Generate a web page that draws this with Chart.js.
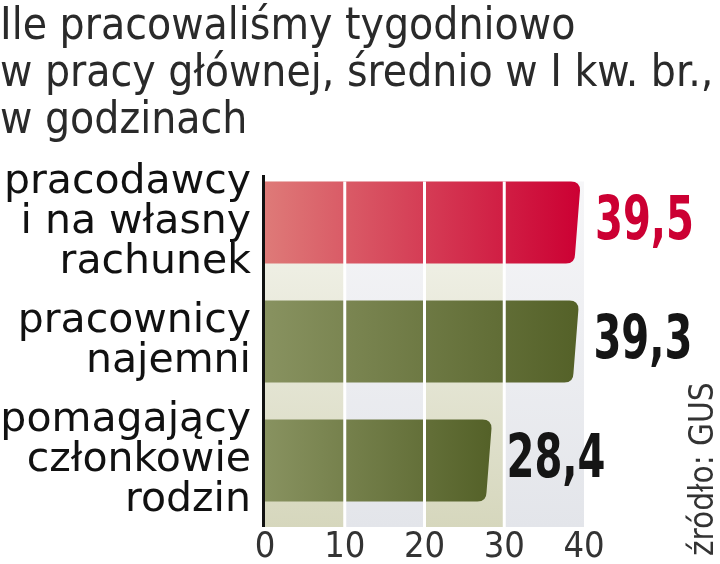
<!DOCTYPE html>
<html>
<head>
<meta charset="utf-8">
<script src="https://cdn.jsdelivr.net/npm/chart.js@4/dist/chart.umd.min.js"></script>
<style>
    html, body { margin: 0; padding: 0; background: #fff; }
</style>
</head>
<body>
<canvas id="hoursChart" width="720" height="564"></canvas>
<script>
// Ile pracowaliśmy tygodniowo - dane GUS, I kw.

const titleLines = ['Ile pracowaliśmy tygodniowo', 'w pracy głównej, średnio w I kw. br.,', 'w godzinach'];
const categories = [
    ['pracodawcy', 'i na własny', 'rachunek'],
    ['pracownicy', 'najemni'],
    ['pomagający', 'członkowie', 'rodzin']
];
const hours = [39.5, 39.3, 28.4];
const valueLabels = ['39,5', '39,3', '28,4'];
const xTicks = [0, 10, 20, 30, 40];
const sourceText = 'źródło: GUS';

// colours
const barColors = [
    ['rgb(222,122,120)', 'rgb(204,0,51)'],
    ['rgb(136,146,96)', 'rgb(84,97,40)'],
    ['rgb(136,146,96)', 'rgb(84,97,40)']
];
const valueColors = ['#cc0033', '#151515', '#151515'];

const NARROW = '"DejaVu Sans Condensed", "Liberation Sans Narrow", sans-serif';

/**
 * Background bands, white separators, axis line, value labels, source
 */
const bandsPlugin = {
    id: 'bands',
    beforeDatasetsDraw(chart) {
        const { ctx, chartArea, scales } = chart;
        const x = scales.x;
        const first = chart.getDatasetMeta(0).data[0];
        const top = first.y - first.height / 2;
        const bottom = chartArea.bottom + 7;
        ctx.save();
        for (let i = 0; i < xTicks.length - 1; i++) {
            const x0 = x.getPixelForValue(xTicks[i]);
            const x1 = x.getPixelForValue(xTicks[i + 1]);
            const g = ctx.createLinearGradient(0, top, 0, bottom);
            if (i % 2 === 0) {
                g.addColorStop(0, '#f6f6f0');
                g.addColorStop(1, '#d6d7bd');
            } else {
                g.addColorStop(0, '#f6f6f8');
                g.addColorStop(1, '#e3e5ea');
            }
            ctx.fillStyle = g;
            ctx.fillRect(x0, top, x1 - x0, bottom - top);
        }
        ctx.restore();
    },
    afterDatasetsDraw(chart) {
        const { ctx, chartArea, scales } = chart;
        const x = scales.x;
        const first = chart.getDatasetMeta(0).data[0];
        const top = first.y - first.height / 2;
        const bottom = chartArea.bottom + 7;
        ctx.save();
        ctx.strokeStyle = '#ffffff';
        ctx.lineWidth = 3;
        xTicks.slice(1, -1).forEach(t => {
            const px = x.getPixelForValue(t);
            ctx.beginPath();
            ctx.moveTo(px, top);
            ctx.lineTo(px, bottom);
            ctx.stroke();
        });
        // zero axis
        ctx.strokeStyle = '#111';
        ctx.lineWidth = 3;
        const zx = x.getPixelForValue(0) - 1.5;
        ctx.beginPath();
        ctx.moveTo(zx, chartArea.top + 12);
        ctx.lineTo(zx, bottom);
        ctx.stroke();

        // values
        ctx.font = 'bold 60px ' + NARROW;
        ctx.textBaseline = 'middle';
        ctx.textAlign = 'left';
        chart.getDatasetMeta(0).data.forEach((el, i) => {
            ctx.fillStyle = valueColors[i];
            ctx.fillText(valueLabels[i], el.x + 15, el.y + 1, 99);
        });

        // source
        ctx.font = '33px ' + NARROW;
        ctx.fillStyle = '#333';
        ctx.translate(713, chart.height - 8);
        ctx.rotate(-Math.PI / 2);
        ctx.textBaseline = 'alphabetic';
        ctx.fillText(sourceText, 0, 0);
        ctx.restore();
    }
};

/**
 * Bars with rounded, slightly slanted right end
 */
const barShapePlugin = {
    id: 'barShape',
    beforeDatasetDraw(chart, args) {
        const { ctx } = chart;
        args.meta.data.forEach((el, i) => {
            const top = el.y - el.height / 2;
            const bottom = el.y + el.height / 2;
            const left = el.base;
            const right = el.x;
            const slant = 5;
            const r = 9;
            const g = ctx.createLinearGradient(left, 0, right, 0);
            g.addColorStop(0, barColors[i][0]);
            g.addColorStop(1, barColors[i][1]);
            ctx.save();
            ctx.fillStyle = g;
            ctx.beginPath();
            ctx.moveTo(left, top);
            ctx.lineTo(right - r, top);
            ctx.quadraticCurveTo(right, top, right, top + r);
            ctx.lineTo(right - slant, bottom - r);
            ctx.quadraticCurveTo(right - slant, bottom, right - slant - r, bottom);
            ctx.lineTo(left, bottom);
            ctx.closePath();
            ctx.fill();
            ctx.restore();
        });
        return false;
    }
};

const chart = new Chart(document.getElementById('hoursChart'), {
    type: 'bar',
    data: {
        labels: categories,
        datasets: [{
            data: hours,
            backgroundColor: '#888',
            barThickness: 82
        }]
    },
    options: {
        indexAxis: 'y',
        responsive: false,
        devicePixelRatio: 1,
        animation: false,
        layout: {
            padding: 0
        },
        plugins: {
            legend: { display: false },
            tooltip: { enabled: false },
            title: {
                display: true,
                text: titleLines,
                align: 'start',
                color: '#2a2a2a',
                font: { family: NARROW, size: 44, weight: 'normal', lineHeight: '47px' },
                padding: { top: 4, bottom: 18 }
            }
        },
        scales: {
            x: {
                min: 0,
                max: 40,
                afterBuildTicks: s => { s.ticks = xTicks.map(v => ({ value: v })); },
                ticks: {
                    color: '#333',
                    font: { family: NARROW, size: 36, lineHeight: 1.0 },
                    padding: 10
                },
                grid: { display: false, drawTicks: false },
                border: { display: false },
                afterFit: s => { s.height = 44; s.paddingLeft = 0; s.paddingRight = 0; }
            },
            y: {
                ticks: {
                    color: '#111',
                    autoSkip: false,
                    font: { family: '"DejaVu Sans", sans-serif', size: 41, lineHeight: '40px' },
                    padding: 14
                },
                grid: { display: false, drawTicks: false },
                border: { display: false },
                afterFit: s => { s.width = 265; s.paddingTop = 0; s.paddingBottom = 0; }
            },
            // empty right-side axis reserves room for the value labels
            yRight: {
                type: 'linear',
                axis: 'y',
                position: 'right',
                ticks: { display: false },
                grid: { display: false, drawTicks: false },
                border: { display: false },
                afterFit: s => { s.width = 136; s.paddingTop = 0; s.paddingBottom = 0; }
            }
        }
    },
    plugins: [bandsPlugin, barShapePlugin]
});
</script>
</body>
</html>
